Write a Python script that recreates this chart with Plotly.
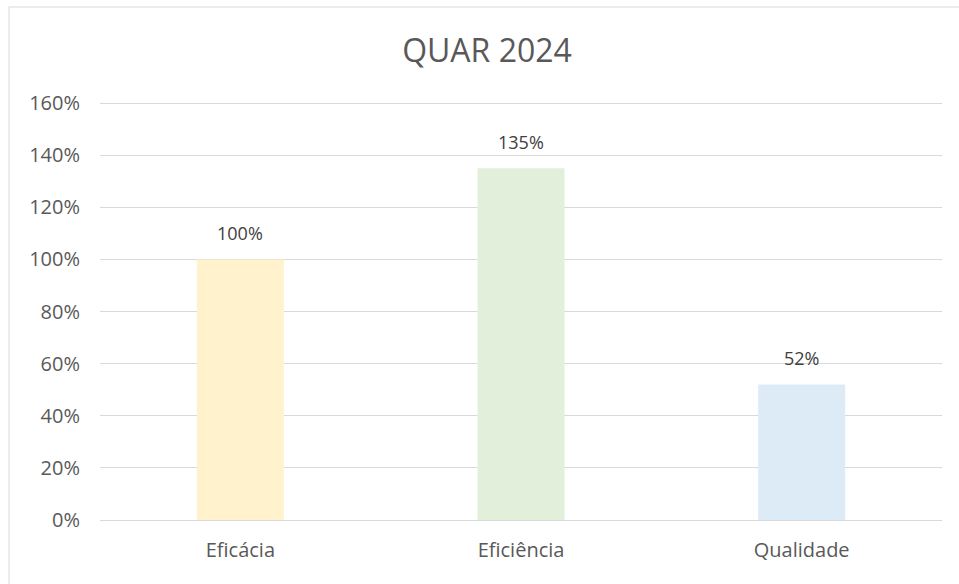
import plotly.graph_objects as go

categories = ["Eficácia", "Eficiência", "Qualidade"]
values = [100, 135, 52]
colors = ["#FFF2CC", "#E2EFDA", "#DDEBF7"]
tick_vals = [0, 20, 40, 60, 80, 100, 120, 140, 160]
tick_text = [f"{v}%" for v in tick_vals]
title_text = "QUAR 2024"

W, H = 959, 584
ml, mr, mt, mb = 100, 17, 102, 64
pw = W - ml - mr
ph = H - mt - mb

font_family = "Open Sans, Liberation Sans, sans-serif"
gray = "#595959"

fig = go.Figure(go.Bar(
    x=categories,
    y=values,
    marker=dict(color=colors, line=dict(width=0)),
    width=0.31,
    hoverinfo="x+y",
))

for c, v in zip(categories, values):
    fig.add_annotation(x=c, y=v, text=f"{v}%", showarrow=False,
                       yanchor="bottom", yshift=12,
                       font=dict(size=18, color="#404040", family=font_family))

fig.update_layout(
    width=W, height=H,
    margin=dict(l=ml, r=mr, t=mt, b=mb),
    paper_bgcolor="white",
    plot_bgcolor="white",
    showlegend=False,
    title=dict(text=title_text, x=487 / W, xanchor="center",
               y=1 - 51 / H, yanchor="middle",
               font=dict(size=32, color=gray, family=font_family)),
    font=dict(family=font_family, color=gray),
    yaxis=dict(range=[0, 160.4], tickvals=tick_vals, ticktext=tick_text,
               showgrid=True, gridcolor="#D9D9D9", gridwidth=1,
               zeroline=False, showline=False, ticks="",
               ticklabelstandoff=19,
               tickfont=dict(size=20, color=gray)),
    xaxis=dict(showgrid=False, showline=True, linecolor="#D9D9D9", linewidth=1,
               ticks="", ticklabelstandoff=12,
               tickfont=dict(size=20, color=gray)),
    shapes=[dict(type="rect", xref="paper", yref="paper",
                 x0=(9 - ml) / pw, x1=(W + 5 - ml) / pw,
                 y0=-(mb + 5) / ph, y1=(H - 7 - mb) / ph,
                 line=dict(color="#D9D9D9", width=1), layer="below")],
)

fig.write_html("out.html",
               config={"displayModeBar": False},
               post_script="document.body.style.margin='0';document.body.style.overflow='hidden';")
